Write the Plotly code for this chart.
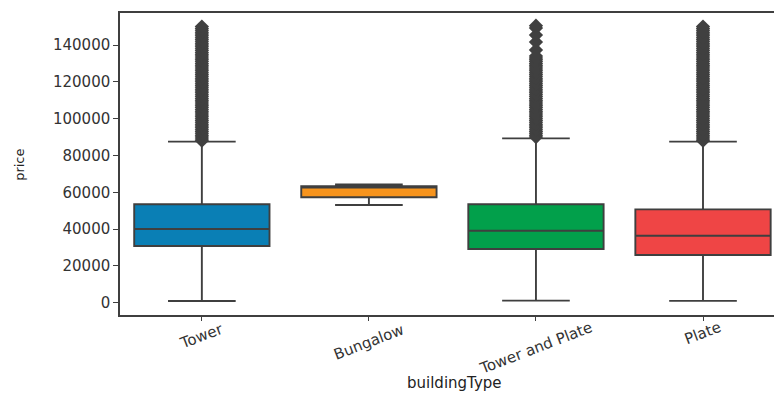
import plotly.graph_objects as go

# Price distribution per building type (box statistics and outliers)
categories = ["Tower", "Bungalow", "Tower and Plate", "Plate"]
q1_vals = [30800, 57300, 29200, 25900]
median_vals = [40000, 62500, 39100, 36400]
q3_vals = [53500, 63300, 53500, 50700]
lower_whisker = [900, 53100, 1100, 1000]
upper_whisker = [87500, 64200, 89300, 87500]
box_colors = ["#0a7fb5", "#f7941d", "#02a04b", "#ef4545"]

outliers_tower = [88000, 89000, 90000, 91000, 92000, 93000, 94000, 95000, 96000,
                  97000, 98000, 99000, 100000, 101000, 102000, 103000, 104000,
                  105000, 106000, 107000, 108000, 109000, 110000, 111000, 112000,
                  113000, 114000, 115000, 116000, 117000, 118000, 119000, 120000,
                  121000, 122000, 123000, 124000, 125000, 126000, 127000, 128000,
                  129000, 130000, 131000, 132000, 133000, 134000, 135000, 136000,
                  137000, 138000, 139000, 140000, 141000, 142000, 143000, 144000,
                  145000, 146000, 147000, 148000, 149000, 150000]
outliers_tower_plate = [90000, 91000, 92000, 93000, 94000, 95000, 96000, 97000,
                        98000, 99000, 100000, 101000, 102000, 103000, 104000, 105000,
                        106000, 107000, 108000, 109000, 110000, 111000, 112000,
                        113000, 114000, 115000, 116000, 117000, 118000, 119000,
                        120000, 121000, 122000, 123000, 124000, 125000, 126000,
                        127000, 128000, 129000, 130000, 131000, 132000, 133000,
                        134000, 137300, 141600, 145400, 149200, 150500]
outliers_plate = [88000, 89000, 90000, 91000, 92000, 93000, 94000, 95000, 96000,
                  97000, 98000, 99000, 100000, 101000, 102000, 103000, 104000,
                  105000, 106000, 107000, 108000, 109000, 110000, 111000, 112000,
                  113000, 114000, 115000, 116000, 117000, 118000, 119000, 120000,
                  121000, 122000, 123000, 124000, 125000, 126000, 127000, 128000,
                  129000, 130000, 131000, 132000, 133000, 134000, 135000, 136000,
                  137000, 138000, 139000, 140000, 141000, 142000, 143000, 144000,
                  145000, 146000, 147000, 148000, 149000, 150000]
outliers = [outliers_tower, [], outliers_tower_plate, outliers_plate]

y_ticks = [0, 20000, 40000, 60000, 80000, 100000, 120000, 140000]

EDGE = "#3f3f3f"
TEXT = "#333333"
FONT = "DejaVu Sans"

fig = go.Figure()

for i, cat in enumerate(categories):
    fig.add_trace(go.Box(
        x=[cat],
        q1=[q1_vals[i]], median=[median_vals[i]], q3=[q3_vals[i]],
        lowerfence=[lower_whisker[i]], upperfence=[upper_whisker[i]],
        fillcolor=box_colors[i],
        line=dict(color=EDGE, width=1.9),
        whiskerwidth=0.5,
        width=0.81,
        boxpoints=False,
        hoverinfo="skip",
        showlegend=False,
    ))
    if outliers[i]:
        fig.add_trace(go.Scatter(
            x=[cat] * len(outliers[i]), y=outliers[i],
            mode="markers",
            marker=dict(symbol="diamond", size=11, color="#404040",
                        line=dict(width=0)),
            hoverinfo="skip",
            showlegend=False,
        ))

# Rotated category labels, centred under each tick
label_pos = {"Tower": -0.071, "Bungalow": -0.089, "Tower and Plate": -0.11, "Plate": -0.060}
for cat in categories:
    fig.add_annotation(
        x=cat, y=label_pos[cat], xref="x", yref="paper",
        text=cat, textangle=-21, showarrow=False,
        xanchor="center", yanchor="middle",
        font=dict(family=FONT, size=15, color=TEXT),
    )

fig.add_annotation(
    x=0.512, y=-0.225, xref="paper", yref="paper",
    text="buildingType", showarrow=False,
    xanchor="center", yanchor="middle",
    font=dict(family=FONT, size=15, color="#222222"),
)
fig.add_annotation(
    x=-0.153, y=0.497, xref="paper", yref="paper",
    text="price", textangle=-90, showarrow=False,
    xanchor="center", yanchor="middle",
    font=dict(family=FONT, size=13, color="#222222"),
)

fig.update_xaxes(
    type="category",
    range=[-0.49, 3.425],
    showticklabels=False,
    ticks="outside", ticklen=4, tickcolor=EDGE, tickwidth=1.2,
    showline=True, linecolor=EDGE, linewidth=1.5, mirror=True,
    showgrid=False, zeroline=False,
)
fig.update_yaxes(
    range=[-6700, 157400],
    tickvals=y_ticks,
    ticktext=[str(v) for v in y_ticks],
    ticks="outside", ticklen=5, tickcolor=EDGE, tickwidth=1.2,
    tickfont=dict(family=FONT, size=15, color=TEXT),
    showline=True, linecolor=EDGE, linewidth=1.5, mirror=False,
    showgrid=False, zeroline=False,
)

fig.update_layout(
    width=774, height=394,
    margin=dict(l=120, r=0, t=13, b=79),
    paper_bgcolor="white", plot_bgcolor="white",
    showlegend=False,
)

fig.write_html("out.html")
